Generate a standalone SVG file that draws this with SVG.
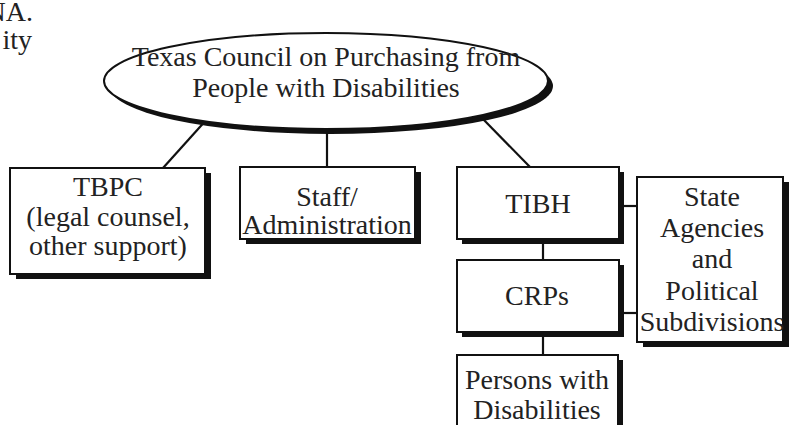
<svg xmlns="http://www.w3.org/2000/svg" width="791" height="425" viewBox="0 0 791 425">
<style>
text{font-family:'Liberation Serif','DejaVu Serif',serif;font-size:28px;fill:#222}
.t{text-anchor:middle}
.tl{text-anchor:end}
.box{fill:#fff;stroke:#111;stroke-width:2}
.sh{fill:#111}
.c{stroke:#111;stroke-width:2.2;fill:none}
</style>
<rect width="791" height="425" fill="#fff"/>
<g id="fragments">
<text class="tl" x="33" y="21">NA.</text>
<text class="tl" x="32" y="49">ity</text>
</g>
<g id="connectors">
<line class="c" x1="208" y1="118" x2="163" y2="168"/>
<line class="c" x1="327" y1="128" x2="327" y2="167"/>
<line class="c" x1="482" y1="118" x2="530" y2="167"/>
<line class="c" x1="619" y1="206" x2="637" y2="206"/>
<line class="c" x1="619" y1="313" x2="637" y2="313"/>
<line class="c" x1="543" y1="239" x2="543" y2="260"/>
<line class="c" x1="543" y1="332" x2="543" y2="355"/>
</g>
<g id="council">
<ellipse cx="331" cy="86" rx="222" ry="48" class="sh"/>
<ellipse cx="326" cy="81" rx="222" ry="48" fill="#fff" stroke="#111" stroke-width="2"/>
<text class="t" x="326" y="66">Texas Council on Purchasing from</text>
<text class="t" x="326" y="97">People with Disabilities</text>
</g>
<g id="tbpc">
<rect class="sh" x="16" y="173" width="195" height="106"/>
<rect class="box" x="10" y="168" width="195" height="106"/>
<text class="t" x="108" y="196">TBPC</text>
<text class="t" x="108" y="226">(legal counsel,</text>
<text class="t" x="108" y="255">other support)</text>
</g>
<g id="staff">
<rect class="sh" x="246" y="172" width="175" height="72"/>
<rect class="box" x="240" y="167" width="175" height="72"/>
<text class="t" x="327" y="206">Staff/</text>
<text class="t" x="327" y="234">Administration</text>
</g>
<g id="tibh">
<rect class="sh" x="462" y="172" width="162" height="72"/>
<rect class="box" x="457" y="167" width="162" height="72"/>
<text class="t" x="538" y="213">TIBH</text>
</g>
<g id="state">
<rect class="sh" x="643" y="182" width="146" height="165"/>
<rect class="box" x="637" y="177" width="146" height="165"/>
<text class="t" x="712" y="206">State</text>
<text class="t" x="712" y="237">Agencies</text>
<text class="t" x="712" y="268">and</text>
<text class="t" x="712" y="300">Political</text>
<text class="t" x="712" y="331">Subdivisions</text>
</g>
<g id="crps">
<rect class="sh" x="462" y="265" width="162" height="72"/>
<rect class="box" x="457" y="260" width="162" height="72"/>
<text class="t" x="537" y="305">CRPs</text>
</g>
<g id="persons">
<rect class="sh" x="462" y="360" width="161" height="80"/>
<rect class="box" x="457" y="355" width="161" height="80"/>
<text class="t" x="537" y="389">Persons with</text>
<text class="t" x="537" y="419">Disabilities</text>
</g>
</svg>
